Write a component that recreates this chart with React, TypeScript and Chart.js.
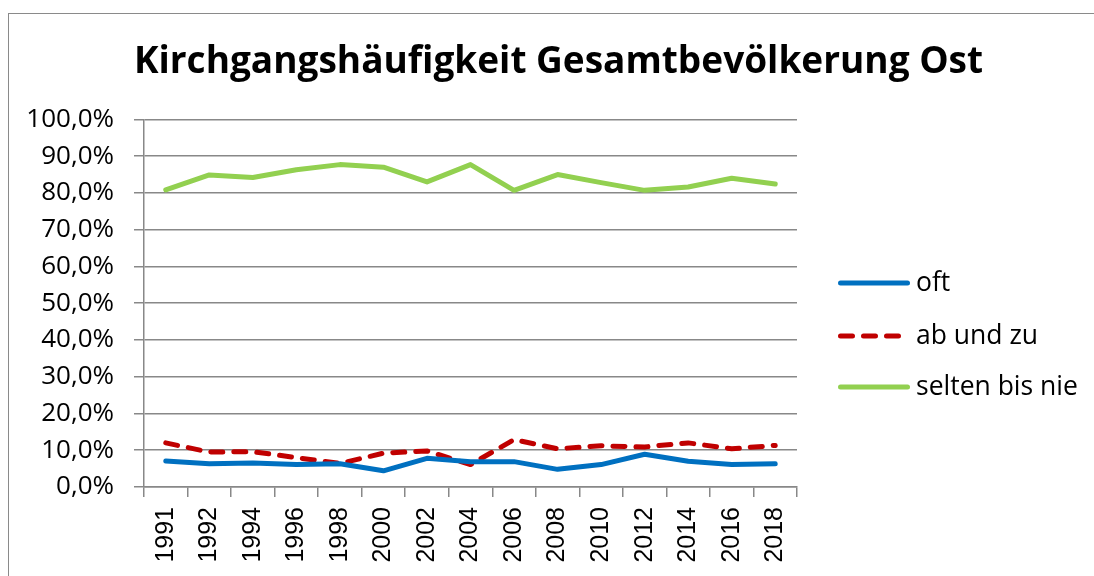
import React, { useEffect, useRef } from "react";
import { Chart, registerables } from "chart.js";

Chart.register(...registerables);

const titleText = "Kirchgangshäufigkeit Gesamtbevölkerung Ost";
const years = ["1991", "1992", "1994", "1996", "1998", "2000", "2002", "2004", "2006", "2008", "2010", "2012", "2014", "2016", "2018"];
const oft = [7.1, 6.3, 6.5, 6.1, 6.3, 4.4, 7.8, 6.9, 6.9, 4.8, 6.1, 8.9, 7.0, 6.1, 6.3];
const abUndZu = [12.0, 9.5, 9.6, 8.0, 6.4, 9.2, 9.8, 6.1, 12.9, 10.4, 11.2, 10.9, 12.0, 10.4, 11.3];
const seltenBisNie = [80.8, 84.9, 84.2, 86.3, 87.7, 87.0, 83.0, 87.7, 80.7, 85.0, 82.8, 80.7, 81.6, 84.0, 82.4];
const seriesLabels = ["oft", "ab und zu", "selten bis nie"];
const seriesColors = ["#0070C0", "#C00000", "#92D050"];
const yMin = 0;
const yMax = 100;
const yStep = 10;

const CANVAS_W = 1117;
const CANVAS_H = 576;
const GRID = "#888888";

const sideLegend = {
  id: "sideLegend",
  afterDraw(chart: any) {
    const ctx = chart.ctx as CanvasRenderingContext2D;
    const ys = [283, 336, 387];
    const x0 = 838;
    const x1 = 910;
    const tx = 916;
    chart.data.datasets.forEach((ds: any, i: number) => {
      ctx.save();
      ctx.strokeStyle = ds.borderColor;
      ctx.lineWidth = ds.borderWidth;
      ctx.lineCap = "round";
      const dash = ds.borderDash || [];
      ctx.setLineDash(dash);
      const half = ds.borderWidth / 2;
      const end = dash.length ? 900 : x1 - half;
      ctx.beginPath();
      ctx.moveTo(x0 + half, ys[i]);
      ctx.lineTo(end, ys[i]);
      ctx.stroke();
      ctx.setLineDash([]);
      ctx.fillStyle = "#000";
      ctx.font = '26.5px "Open Sans"';
      ctx.textBaseline = "middle";
      ctx.textAlign = "left";
      ctx.fillText(ds.label, tx, ys[i]);
      ctx.restore();
    });
  },
};

export default function App() {
  const ref = useRef<HTMLCanvasElement | null>(null);

  useEffect(() => {
    if (!ref.current) return;
    const seriesData = [oft, abUndZu, seltenBisNie];
    const chart = new Chart(ref.current, {
      type: "line",
      data: {
        labels: years,
        datasets: seriesData.map((d, i) => ({
          label: seriesLabels[i],
          data: d,
          yAxisID: "y",
          borderColor: seriesColors[i],
          backgroundColor: seriesColors[i],
          borderWidth: 5,
          borderDash: i === 1 ? [12, 11] : [],
          borderCapStyle: "round",
          borderJoinStyle: "round",
          pointRadius: 0,
          tension: 0,
          fill: false,
        })),
      },
      options: {
        responsive: false,
        animation: false,
        devicePixelRatio: 1,
        layout: { padding: 0 },
        plugins: {
          legend: { display: false },
          tooltip: { enabled: false },
          title: {
            display: true,
            text: titleText,
            color: "#000",
            font: { family: '"Open Sans"', size: 37, weight: "bold", lineHeight: 1.2 },
            padding: { top: 40, bottom: 35 },
          },
        },
        scales: {
          x: {
            offset: true,
            grid: { offset: true, drawOnChartArea: false, drawTicks: true, tickLength: 10, color: GRID, lineWidth: 1.5 },
            border: { color: GRID, width: 1.5 },
            ticks: {
              autoSkip: false,
              minRotation: 90,
              maxRotation: 90,
              padding: 10,
              color: "#000",
              font: { family: '"Liberation Sans"', size: 25 },
            },
            afterFit: (s: any) => {
              s.height = CANVAS_H - 487;
            },
          },
          y: {
            min: yMin,
            max: yMax,
            grid: { color: GRID, lineWidth: 1.5, tickLength: 10, drawTicks: true },
            border: { color: GRID, width: 1.5 },
            ticks: {
              stepSize: yStep,
              padding: 20,
              color: "#000",
              font: { family: '"Open Sans"', size: 26 },
              callback: (v: any) => Number(v).toFixed(1).replace(".", ",") + "%",
            },
            afterFit: (s: any) => {
              s.width = 144;
            },
          },
          legendSpace: {
            type: "linear",
            position: "right",
            display: true,
            grid: { display: false, drawOnChartArea: false },
            border: { display: false },
            ticks: { display: false },
            afterFit: (s: any) => {
              s.width = CANVAS_W - 797;
            },
          },
        },
      },
      plugins: [sideLegend],
    } as any);
    return () => chart.destroy();
  }, []);

  return (
    <div style={{ position: "absolute", left: 0, top: 0, width: 1094, height: 576, overflow: "hidden", background: "#fff" }}>
      <div style={{ position: "absolute", left: 8, top: 13, width: 2000, height: 2000, border: "1px solid #8a8a8a" }} />
      <canvas ref={ref} width={CANVAS_W} height={CANVAS_H} style={{ position: "absolute", left: 0, top: 0, width: CANVAS_W, height: CANVAS_H }} />
    </div>
  );
}
